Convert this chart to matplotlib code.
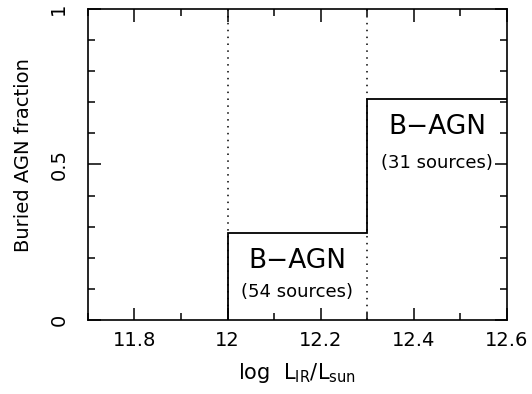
import matplotlib
matplotlib.use("Agg")
import matplotlib.pyplot as plt
from matplotlib.ticker import MultipleLocator, FormatStrFormatter

# Buried AGN fraction per luminosity bin
bin_edges = [12.0, 12.3, 12.6]
fractions = [0.28, 0.71]
bin_labels = ["B\u2212AGN", "B\u2212AGN"]
source_labels = ["(54 sources)", "(31 sources)"]
label_y = [0.19, 0.62]
source_y = [0.09, 0.505]
divider_x = [12.0, 12.3]

plt.rcParams['font.family'] = ['DejaVu Sans']

fig = plt.figure(figsize=(5.32, 3.94), dpi=100)
ax = fig.add_axes([0.165, 0.188, 0.788, 0.789])

# dotted bin dividers
for x in divider_x:
    ax.axvline(x, color='black', linestyle=(0, (1, 3.5)), linewidth=1.1)

# step outline
xs = [bin_edges[0]]
ys = [0]
for i, f in enumerate(fractions):
    xs += [bin_edges[i], bin_edges[i + 1]]
    ys += [f, f]
ax.plot(xs, ys, color='black', linewidth=1.3, solid_joinstyle='miter')

for i in range(len(fractions)):
    xc = (bin_edges[i] + bin_edges[i + 1]) / 2
    ax.text(xc, label_y[i], bin_labels[i], ha='center', va='center', fontsize=19)
    ax.text(xc, source_y[i], source_labels[i], ha='center', va='center', fontsize=13)

ax.set_xlim(11.7, 12.6)
ax.set_ylim(0, 1)
ax.xaxis.set_major_locator(MultipleLocator(0.2))
ax.xaxis.set_minor_locator(MultipleLocator(0.1))
ax.yaxis.set_major_locator(MultipleLocator(0.5))
ax.yaxis.set_minor_locator(MultipleLocator(0.1))
ax.xaxis.set_major_formatter(FormatStrFormatter('%g'))
ax.yaxis.set_major_formatter(FormatStrFormatter('%g'))

ax.tick_params(which='both', direction='in', top=True, right=True, width=1.1,
               labelsize=14)
ax.tick_params(which='major', length=9)
ax.tick_params(which='minor', length=5)
ax.tick_params(axis='x', which='major', pad=8)
ax.tick_params(axis='y', which='major', pad=14)
for lab in ax.get_yticklabels():
    lab.set_rotation(90)
    lab.set_va('center')
for s in ax.spines.values():
    s.set_linewidth(1.2)

ax.set_xlabel('log  L$_\\mathregular{IR}$/L$_\\mathregular{sun}$', fontsize=15, labelpad=8)
ax.set_ylabel('Buried AGN fraction', fontsize=14)
ax.yaxis.set_label_coords(-0.13, 0.53)

fig.savefig('out.png', dpi=100)
